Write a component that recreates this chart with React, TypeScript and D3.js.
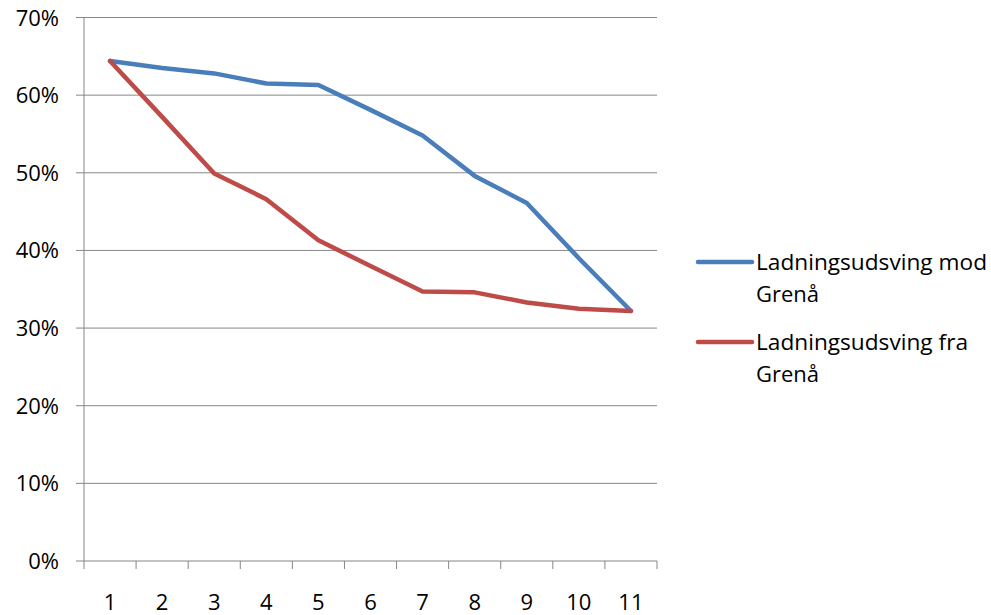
import React from "react";
import * as d3 from "d3";

const categories = ["1", "2", "3", "4", "5", "6", "7", "8", "9", "10", "11"];
const modGrena = [0.644, 0.635, 0.628, 0.615, 0.613, 0.581, 0.548, 0.496, 0.461, 0.390, 0.322];
const fraGrena = [0.644, 0.572, 0.499, 0.466, 0.413, 0.380, 0.347, 0.346, 0.333, 0.325, 0.322];
const yTicks = [0, 0.1, 0.2, 0.3, 0.4, 0.5, 0.6, 0.7];
const seriesNames = [["Ladningsudsving mod", "Grenå"], ["Ladningsudsving fra", "Grenå"]];
const colors = ["#4A7EBB", "#BE4B48"];

export default function App() {
  const W = 991, H = 615;
  const left = 84, right = 657, top = 17.5, bottom = 561;
  const x = d3.scaleBand<string>().domain(categories).range([left, right]);
  const y = d3.scaleLinear().domain([0, 0.7]).range([bottom, top]);
  const line = d3.line<number>()
    .x((_, i) => (x(categories[i]) as number) + x.bandwidth() / 2)
    .y((d) => y(d));
  const font = "'Open Sans', sans-serif";
  const series = [modGrena, fraGrena];
  const gridColor = "#868686";
  const fs = 22;
  return (
    <svg width={W} height={H} style={{ position: "absolute", left: 0, top: 0, background: "#fff", fontFamily: font }}>
      {yTicks.map((t) => (
        <g key={t}>
          <line x1={left - 8} x2={right} y1={y(t)} y2={y(t)} stroke={gridColor} strokeWidth={1} />
          <text x={59} y={y(t) + 8} textAnchor="end" fontSize={fs} fill="#000">
            {d3.format(".0%")(t)}
          </text>
        </g>
      ))}
      <line x1={left} x2={left} y1={top} y2={bottom} stroke={gridColor} strokeWidth={1} />
      {categories.map((c) => (
        <line key={"t" + c} x1={(x(c) as number)} x2={(x(c) as number)} y1={bottom} y2={bottom + 8} stroke={gridColor} />
      ))}
      <line x1={right} x2={right} y1={bottom} y2={bottom + 8} stroke={gridColor} />
      {categories.map((c) => (
        <text key={"l" + c} x={(x(c) as number) + x.bandwidth() / 2} y={610} textAnchor="middle" fontSize={fs} fill="#000">
          {c}
        </text>
      ))}
      {series.map((s, i) => (
        <path key={"s" + i} d={line(s) || ""} fill="none" stroke={colors[i]} strokeWidth={4.5} strokeLinejoin="round" strokeLinecap="round" />
      ))}
      {seriesNames.map((n, i) => {
        const ly = 262 + i * 80;
        return (
          <g key={"lg" + i}>
            <line x1={698} x2={752} y1={ly} y2={ly} stroke={colors[i]} strokeWidth={4.5} strokeLinecap="round" />
            <text x={756} y={ly + 7.5} fontSize={fs} fill="#000" textLength={i === 0 ? 231 : 212} lengthAdjust="spacingAndGlyphs">{n[0]}</text>
            <text x={756} y={ly + 40} fontSize={fs} fill="#000">{n[1]}</text>
          </g>
        );
      })}
    </svg>
  );
}
